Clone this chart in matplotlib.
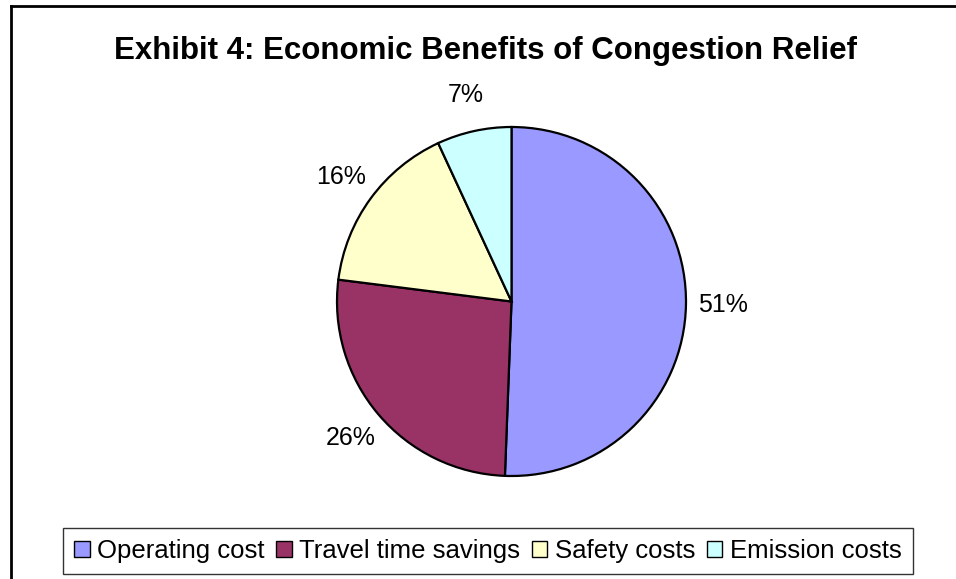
import matplotlib
matplotlib.use("Agg")
import matplotlib.pyplot as plt
from matplotlib.lines import Line2D

plt.rcParams['font.family'] = ['Liberation Sans', 'DejaVu Sans']

# data (shares estimated from the slice geometry, labels round to 51/26/16/7)
labels = ['Operating cost', 'Travel time savings', 'Safety costs', 'Emission costs']
values = [50.6, 26.4, 16.1, 6.9]
colors = ['#9999FF', '#993366', '#FFFFCC', '#CCFFFF']

W, H = 956, 579
fig = plt.figure(figsize=(W / 100, H / 100), dpi=100)

# pie axes, square box around the pie
cx, cy, r = 511.5, 301.5, 174.5
ax = fig.add_axes([(cx - r) / W, (H - cy - r) / H, 2 * r / W, 2 * r / H])

wedges, texts, autotexts = ax.pie(
    values, colors=colors, startangle=90, counterclock=False,
    autopct='%.0f%%', pctdistance=1.21, radius=1,
    wedgeprops=dict(edgecolor='black', linewidth=1.6))
for t in autotexts:
    t.set_fontsize(18)
    t.set_color('black')
ax.set_xlim(-1, 1)
ax.set_ylim(-1, 1)
ax.set_aspect('auto')

fig.text(486 / W, 1 - 51 / H, 'Exhibit 4: Economic Benefits of Congestion Relief',
         ha='center', va='center', fontsize=22.5, fontweight='bold')

leg = fig.legend(wedges, labels, loc='center', ncol=4,
                 bbox_to_anchor=(488 / W, 1 - 551 / H),
                 fontsize=18.5, frameon=True, fancybox=False,
                 handlelength=0.6, handleheight=0.6, handletextpad=0.3,
                 columnspacing=0.45, borderpad=0.42, borderaxespad=0)
leg.get_frame().set_edgecolor('black')
leg.get_frame().set_linewidth(1)
for h in leg.legend_handles:
    h.set_linewidth(1)

# outer chart border (left and top visible)
fig.add_artist(Line2D([10.5 / W, 10.5 / W], [0, 1 - 6 / H], color='black', lw=2))
fig.add_artist(Line2D([10.5 / W, 1], [1 - 6 / H, 1 - 6 / H], color='black', lw=2))

fig.savefig('out.png', dpi=100)
